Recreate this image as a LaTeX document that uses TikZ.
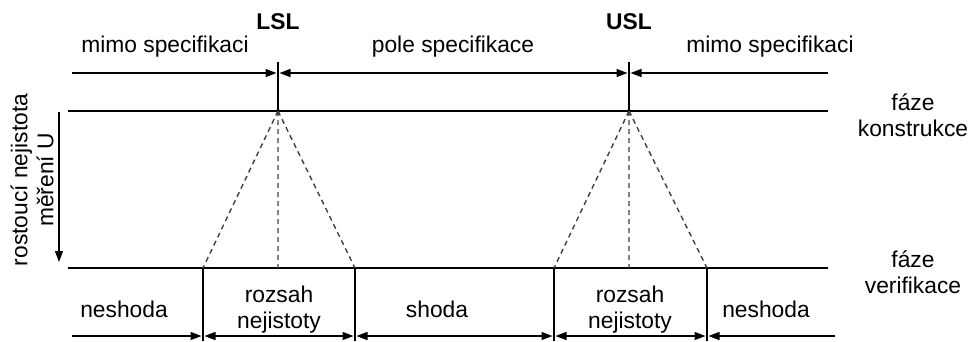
\documentclass[tikz,border=0pt]{standalone}
\usepackage{fontspec}
\setmainfont{Liberation Sans}
\usetikzlibrary{arrows.meta}
\begin{document}
\begin{tikzpicture}[x=1pt,y=-1pt,
  lbl/.style={font=\fontsize{22.8}{26}\selectfont, inner sep=0pt, align=center},
  thickline/.style={line width=2.8pt},
  thinline/.style={line width=1.4pt},
  dim/.style={line width=1.3pt, -{Triangle[length=11pt,width=8pt]}},
  dimboth/.style={line width=1.3pt, {Triangle[length=11pt,width=8pt]}-{Triangle[length=11pt,width=8pt]}},
  dashline/.style={line width=1.4pt, dash pattern=on 5pt off 4pt, black!75}]
\useasboundingbox (0,0) rectangle (971,341);
% key coordinates
\coordinate (tl) at (68,111); \coordinate (tr) at (828,111);
\coordinate (bl) at (68,268); \coordinate (br) at (828,268);
\coordinate (lslt) at (278,62); \coordinate (lsl) at (278,111);
\coordinate (uslt) at (629,62); \coordinate (usl) at (629,111);
\coordinate (lslm) at (278,268); \coordinate (uslm) at (629,268);
\coordinate (a) at (203,268); \coordinate (b) at (355,268);
\coordinate (c) at (554,268); \coordinate (d) at (707,268);
\coordinate (ab) at (203,341); \coordinate (bb) at (355,341);
\coordinate (cb) at (554,341); \coordinate (db) at (707,341);
\coordinate (topL) at (72,73); \coordinate (topR) at (828,73);
\coordinate (lslA) at (278,73); \coordinate (uslA) at (629,73);
\coordinate (botL) at (72,336); \coordinate (botR) at (835,336);
\coordinate (aA) at (203,336); \coordinate (bA) at (355,336);
\coordinate (cA) at (554,336); \coordinate (dA) at (707,336);
\coordinate (arrT) at (59,112); \coordinate (arrB) at (59,262);
% main lines
\draw[thickline] (tl) -- (tr);
\draw[thickline] (bl) -- (br);
\draw[thinline] (lslt) -- (lsl);
\draw[thinline] (uslt) -- (usl);
\fill (lsl) circle (2pt); \fill (usl) circle (2pt);
\foreach \p/\q in {a/ab,b/bb,c/cb,d/db} \draw[thinline] (\p) -- (\q);
% dashed cones
\draw[dashline] (lsl) -- (a) (lsl) -- (lslm) (lsl) -- (b);
\draw[dashline] (usl) -- (c) (usl) -- (uslm) (usl) -- (d);
% top dimension arrows
\draw[dim] (topL) -- ([xshift=-1.5pt]lslA);
\draw[dimboth] ([xshift=1.5pt]lslA) -- ([xshift=-1.5pt]uslA);
\draw[dim] (topR) -- ([xshift=1.5pt]uslA);
% bottom dimension arrows
\draw[dim] (botL) -- ([xshift=-1.5pt]aA);
\draw[dimboth] ([xshift=1.5pt]aA) -- ([xshift=-1.5pt]bA);
\draw[dimboth] ([xshift=1.5pt]bA) -- ([xshift=-1.5pt]cA);
\draw[dimboth] ([xshift=1.5pt]cA) -- ([xshift=-1.5pt]dA);
\draw[dim] (botR) -- ([xshift=1.5pt]dA);
% left arrow
\draw[dim] (arrT) -- (arrB);
% labels
\node[lbl, font=\fontsize{22.8}{26}\selectfont\bfseries] (LSL) at (278,22) {LSL};
\node[lbl, font=\fontsize{22.8}{26}\selectfont\bfseries] (USL) at (629,22) {USL};
\node[lbl] (m1) at (165,47) {mimo specifikaci};
\node[lbl] (ps) at (453,47) {pole specifikace};
\node[lbl] (m2) at (770,47) {mimo specifikaci};
\node[lbl] (fk) at (913,115) {fáze\\konstrukce};
\node[lbl] (fv) at (913,272) {fáze\\verifikace};
\node[lbl] (n1) at (124,309) {neshoda};
\node[lbl] (r1) at (279,310) {rozsah\\nejistoty};
\node[lbl] (sh) at (437,309) {shoda};
\node[lbl] (r2) at (630,310) {rozsah\\nejistoty};
\node[lbl] (n2) at (766,309) {neshoda};
\node[lbl, rotate=90] (ru) at (32,180) {rostoucí nejistota\\měření U};
\end{tikzpicture}
\end{document}
